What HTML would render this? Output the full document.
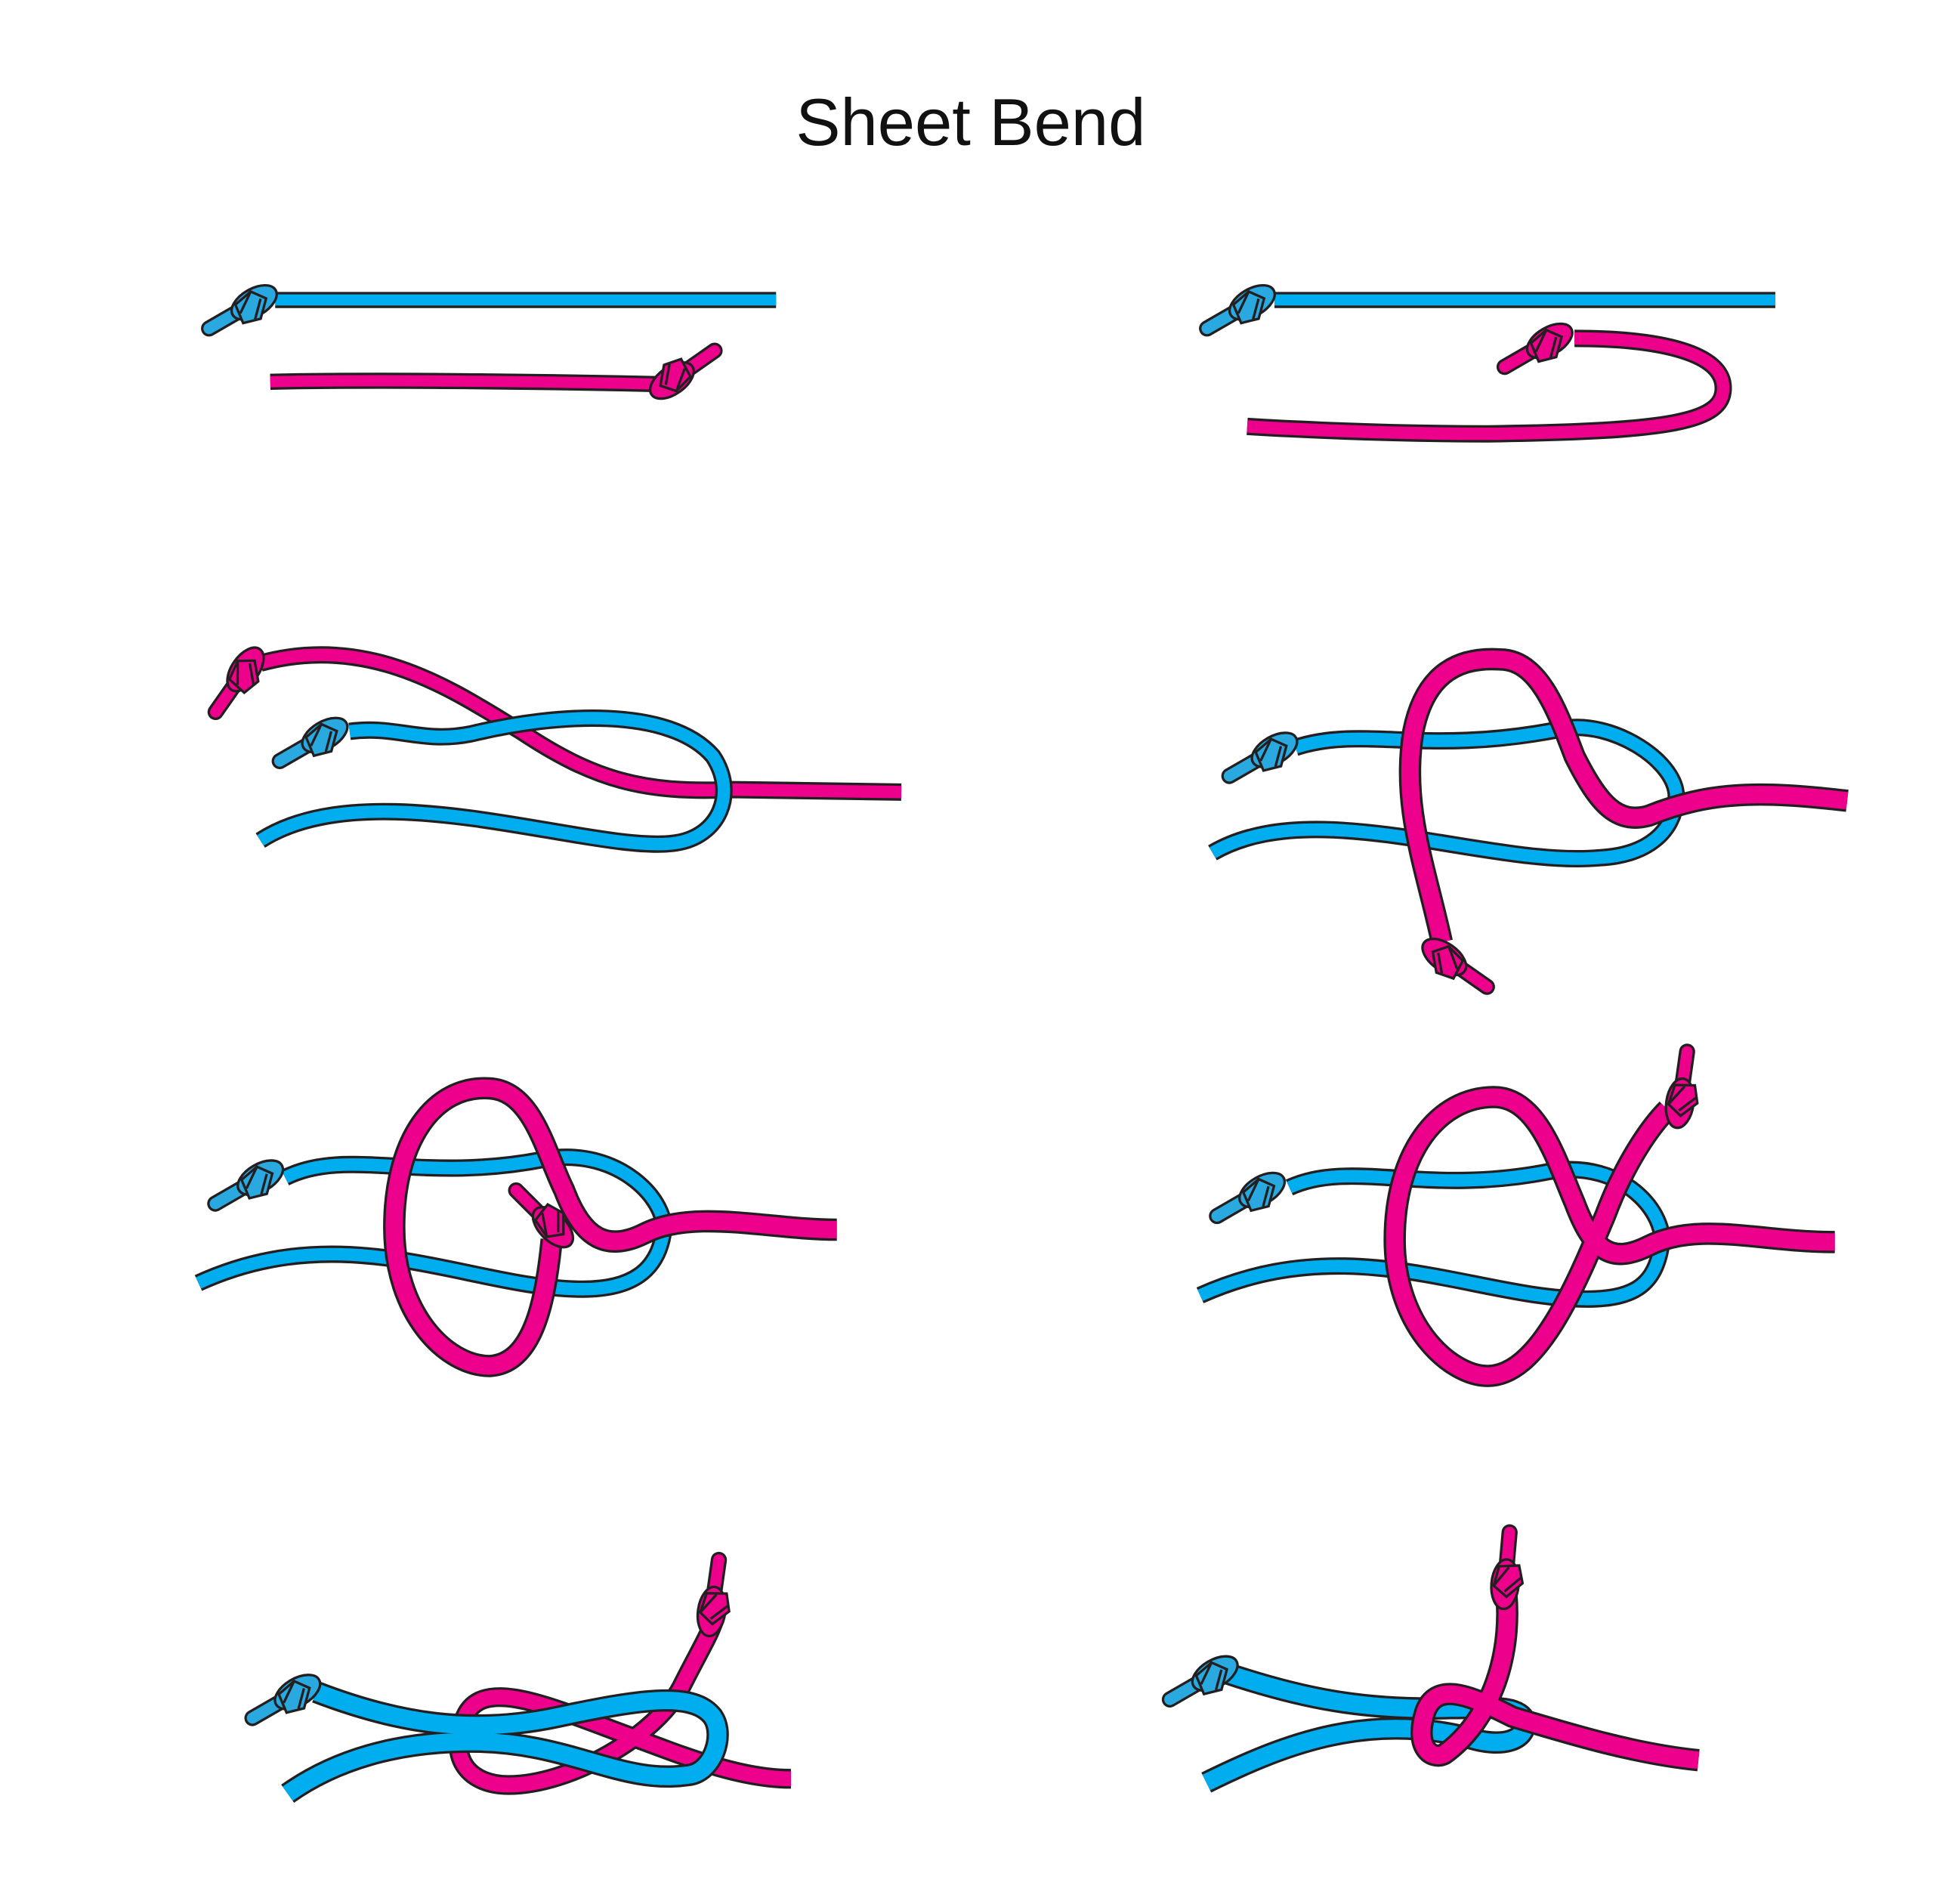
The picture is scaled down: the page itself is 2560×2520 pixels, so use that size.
<!DOCTYPE html>
<html><head><meta charset="utf-8"><style>
html,body{margin:0;padding:0;background:#fff;}
svg{display:block;}
.o{fill:none;stroke:#231F20;stroke-linecap:butt;stroke-linejoin:round;}
.b{fill:none;stroke:#00AEEF;stroke-linecap:butt;stroke-linejoin:round;}
.p{fill:none;stroke:#EC008C;stroke-linecap:butt;stroke-linejoin:round;}
</style></head><body>
<svg width="2560" height="2520" viewBox="0 0 1560 1536" preserveAspectRatio="none" xmlns="http://www.w3.org/2000/svg">
<defs>
<g id="knot">
 <line x1="-42" y1="0" x2="-5" y2="0" stroke="#231F20" stroke-width="13" stroke-linecap="round"/>
 <line x1="-42" y1="0" x2="-5" y2="0" stroke="currentColor" stroke-width="9" stroke-linecap="round"/>
 <ellipse cx="0" cy="0" rx="20" ry="11" fill="currentColor" stroke="#231F20" stroke-width="2"/>
 <path d="M-16,-10 L-2,-14 L10,-2 L2,9 L-14,6 Z" fill="currentColor" stroke="#231F20" stroke-width="2"/>
 <path d="M-6,-12 L6,0 M-14,-2 L2,9" fill="none" stroke="#231F20" stroke-width="2"/>
</g>
</defs>
<rect width="1560" height="1536" fill="#fff"/>
<text x="783" y="117" text-anchor="middle" font-family="Liberation Sans, sans-serif" font-size="54" fill="#111">Sheet Bend</text>

<!-- Panel 1 -->
<path class="o" stroke-width="13" d="M222,242 L626,242"/><path class="b" stroke-width="9" d="M222,242 L626,242"/>
<use href="#knot" transform="translate(205,244) rotate(-30) scale(-1,1) rotate(180)" color="#29A9E0"/>
<path class="o" stroke-width="13" d="M218,308 C300,306 450,308 535,310"/><path class="p" stroke-width="9" d="M218,308 C300,306 450,308 535,310"/>
<use href="#knot" transform="translate(542,307) rotate(-35) scale(-1,1)" color="#EC008C"/>

<!-- Panel 2 -->
<path class="o" stroke-width="13" d="M1028,242 L1432,242"/><path class="b" stroke-width="9" d="M1028,242 L1432,242"/>
<use href="#knot" transform="translate(1010,244) rotate(-30) scale(-1,1) rotate(180)" color="#29A9E0"/>
<path class="o" stroke-width="14" d="M1270,273 C1340,273 1390,285 1390,313 C1390,340 1350,348 1200,350 C1100,350 1006,344 1006,344"/>
<path class="p" stroke-width="10" d="M1270,273 C1340,273 1390,285 1390,313 C1390,340 1350,348 1200,350 C1100,350 1006,344 1006,344"/>
<use href="#knot" transform="translate(1250,275) rotate(-30) scale(-1,1) rotate(180)" color="#EC008C"/>

<!-- Panel 3 -->
<path class="o" stroke-width="14" d="M210,535 C300,510 370,560 420,590 C480,630 520,640 590,637 L727,639"/>
<path class="p" stroke-width="10" d="M210,535 C300,510 370,560 420,590 C480,630 520,640 590,637 L727,639"/>
<use href="#knot" transform="translate(198,540) rotate(-55) scale(-1,1) rotate(180)" color="#EC008C"/>
<path class="o" stroke-width="14" d="M282,590 C320,585 340,600 380,592 C450,575 540,570 575,610 C595,640 580,675 545,680 C480,690 300,620 210,678"/>
<path class="b" stroke-width="10" d="M282,590 C320,585 340,600 380,592 C450,575 540,570 575,610 C595,640 580,675 545,680 C480,690 300,620 210,678"/>
<use href="#knot" transform="translate(262,593) rotate(-30) scale(-1,1) rotate(180)" color="#29A9E0"/>

<!-- Panel 4 -->
<path class="o" stroke-width="14" d="M1045,603 C1100,585 1150,610 1260,588 C1300,580 1355,615 1352,645 C1350,670 1330,690 1290,692 C1200,700 1060,640 978,688"/>
<path class="b" stroke-width="10" d="M1045,603 C1100,585 1150,610 1260,588 C1300,580 1355,615 1352,645 C1350,670 1330,690 1290,692 C1200,700 1060,640 978,688"/>
<use href="#knot" transform="translate(1028,605) rotate(-30) scale(-1,1) rotate(180)" color="#29A9E0"/>
<path class="o" stroke-width="18" d="M1163,760 C1150,700 1130,650 1140,590 C1150,540 1180,530 1210,532 C1240,532 1255,570 1270,610 C1290,650 1305,665 1330,658 C1380,638 1420,638 1490,646"/>
<path class="p" stroke-width="14" d="M1163,760 C1150,700 1130,650 1140,590 C1150,540 1180,530 1210,532 C1240,532 1255,570 1270,610 C1290,650 1305,665 1330,658 C1380,638 1420,638 1490,646"/>
<use href="#knot" transform="translate(1165,772) rotate(215)" color="#EC008C"/>

<!-- Panel 5 -->
<path class="o" stroke-width="14" d="M230,950 C280,925 340,955 440,935 C500,925 540,970 535,995 C530,1025 510,1040 470,1040 C380,1040 280,980 160,1035"/>
<path class="b" stroke-width="10" d="M230,950 C280,925 340,955 440,935 C500,925 540,970 535,995 C530,1025 510,1040 470,1040 C380,1040 280,980 160,1035"/>
<use href="#knot" transform="translate(210,950) rotate(-30) scale(-1,1) rotate(180)" color="#29A9E0"/>
<path class="o" stroke-width="18" d="M675,992 C620,992 560,975 520,995 C490,1010 470,1000 455,960 C440,930 430,880 395,878 C350,875 318,920 318,990 C318,1060 360,1102 395,1102 C430,1100 440,1050 445,1000"/>
<path class="p" stroke-width="14" d="M675,992 C620,992 560,975 520,995 C490,1010 470,1000 455,960 C440,930 430,880 395,878 C350,875 318,920 318,990 C318,1060 360,1102 395,1102 C430,1100 440,1050 445,1000"/>
<use href="#knot" transform="translate(446,990) rotate(45)" color="#EC008C"/>

<!-- Panel 6 -->
<path class="o" stroke-width="14" d="M1040,958 C1090,935 1150,965 1250,945 C1310,935 1345,980 1340,1005 C1335,1035 1320,1048 1280,1048 C1190,1048 1090,990 968,1045"/>
<path class="b" stroke-width="10" d="M1040,958 C1090,935 1150,965 1250,945 C1310,935 1345,980 1340,1005 C1335,1035 1320,1048 1280,1048 C1190,1048 1090,990 968,1045"/>
<use href="#knot" transform="translate(1018,960) rotate(-30) scale(-1,1) rotate(180)" color="#29A9E0"/>
<path class="o" stroke-width="18" d="M1480,1002 C1420,1002 1370,985 1330,1005 C1300,1020 1285,1010 1270,970 C1255,935 1240,885 1205,885 C1160,885 1125,930 1125,1000 C1125,1070 1170,1110 1200,1110 C1240,1110 1270,1040 1295,980 C1310,940 1330,910 1345,895"/>
<path class="p" stroke-width="14" d="M1480,1002 C1420,1002 1370,985 1330,1005 C1300,1020 1285,1010 1270,970 C1255,935 1240,885 1205,885 C1160,885 1125,930 1125,1000 C1125,1070 1170,1110 1200,1110 C1240,1110 1270,1040 1295,980 C1310,940 1330,910 1345,895"/>
<use href="#knot" transform="translate(1355,890) rotate(98)" color="#EC008C"/>

<!-- Panel 7 -->
<path class="o" stroke-width="16" d="M638,1435 C600,1435 560,1420 520,1405 C450,1380 390,1350 375,1385 C360,1420 380,1440 410,1440 C460,1440 530,1400 550,1360 C565,1330 575,1315 578,1300"/>
<path class="p" stroke-width="12" d="M638,1435 C600,1435 560,1420 520,1405 C450,1380 390,1350 375,1385 C360,1420 380,1440 410,1440 C460,1440 530,1400 550,1360 C565,1330 575,1315 578,1300"/>
<use href="#knot" transform="translate(574,1300) rotate(98)" color="#EC008C"/>
<path class="o" stroke-width="18" d="M255,1365 C320,1390 380,1400 450,1385 C520,1370 560,1365 575,1385 C585,1400 575,1430 555,1432 C500,1440 460,1405 380,1405 C320,1405 270,1420 232,1447"/>
<path class="b" stroke-width="14" d="M255,1365 C320,1390 380,1400 450,1385 C520,1370 560,1365 575,1385 C585,1400 575,1430 555,1432 C500,1440 460,1405 380,1405 C320,1405 270,1420 232,1447"/>
<use href="#knot" transform="translate(240,1365) rotate(-30) scale(-1,1) rotate(180)" color="#29A9E0"/>

<!-- Panel 8 -->
<path class="o" stroke-width="18" d="M990,1350 C1050,1370 1100,1380 1170,1378 C1200,1378 1225,1375 1230,1388 C1232,1405 1210,1410 1185,1402 C1100,1380 1030,1410 973,1438"/>
<path class="b" stroke-width="14" d="M990,1350 C1050,1370 1100,1380 1170,1378 C1200,1378 1225,1375 1230,1388 C1232,1405 1210,1410 1185,1402 C1100,1380 1030,1410 973,1438"/>
<use href="#knot" transform="translate(980,1350) rotate(-30) scale(-1,1) rotate(180)" color="#29A9E0"/>
<path class="o" stroke-width="18" d="M1370,1420 C1320,1415 1270,1400 1220,1385 C1190,1370 1160,1355 1150,1380 C1140,1410 1155,1420 1165,1415 C1200,1390 1220,1340 1215,1285"/>
<path class="p" stroke-width="14" d="M1370,1420 C1320,1415 1270,1400 1220,1385 C1190,1370 1160,1355 1150,1380 C1140,1410 1155,1420 1165,1415 C1200,1390 1220,1340 1215,1285"/>
<use href="#knot" transform="translate(1214,1278) rotate(95)" color="#EC008C"/>
</svg>
</body></html>
